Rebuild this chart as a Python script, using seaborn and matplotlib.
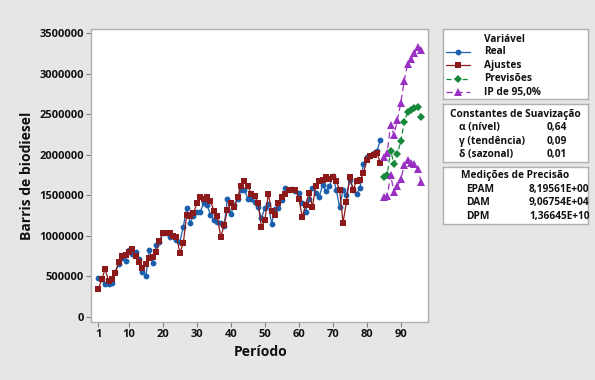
import numpy as np
import pandas as pd
import matplotlib
matplotlib.use("Agg")
import matplotlib.pyplot as plt
import seaborn as sns
from matplotlib.lines import Line2D

# --- data ---
periodo_real = list(range(1, 85))
real = [480000, 470000, 403000, 405000, 420000, 560000, 650000, 731000, 690000, 826000,
        777000, 800000, 711000, 558000, 505000, 826000, 662000, 888000, 929000, 1040000,
        1030000, 983000, 1000000, 949000, 928000, 1110000, 1340000, 1160000, 1250000, 1290000,
        1300000, 1400000, 1380000, 1260000, 1200000, 1170000, 1160000, 1120000, 1460000, 1270000,
        1380000, 1450000, 1570000, 1560000, 1460000, 1460000, 1420000, 1350000, 1220000, 1340000,
        1390000, 1150000, 1330000, 1340000, 1440000, 1590000, 1570000, 1580000, 1550000, 1530000,
        1410000, 1300000, 1450000, 1590000, 1530000, 1480000, 1630000, 1550000, 1610000, 1740000,
        1570000, 1350000, 1570000, 1500000, 1690000, 1560000, 1520000, 1590000, 1890000, 1970000,
        1980000, 2020000, 2050000, 2180000]
ajustes = [340000, 465000, 588000, 448000, 465000, 546000, 680000, 752000, 760000, 800000,
           838000, 752000, 680000, 608000, 650000, 723000, 743000, 800000, 937000, 1030000,
           1030000, 1030000, 1000000, 990000, 793000, 908000, 1260000, 1240000, 1280000, 1400000,
           1480000, 1450000, 1480000, 1430000, 1310000, 1250000, 983000, 1130000, 1320000, 1400000,
           1360000, 1480000, 1610000, 1670000, 1610000, 1520000, 1490000, 1410000, 1110000, 1190000,
           1520000, 1310000, 1260000, 1410000, 1480000, 1520000, 1570000, 1570000, 1570000, 1460000,
           1230000, 1380000, 1530000, 1360000, 1610000, 1680000, 1690000, 1720000, 1700000, 1720000,
           1670000, 1570000, 1160000, 1420000, 1730000, 1570000, 1680000, 1690000, 1770000, 1940000,
           1980000, 2000000, 2020000, 1900000]
periodo_prev = list(range(85, 97))
previsoes = [1730000, 1750000, 2050000, 1890000, 2010000, 2170000,
             2400000, 2530000, 2550000, 2570000, 2590000, 2470000]
ip_superior = [1970000, 2020000, 2370000, 2240000, 2430000, 2640000,
               2910000, 3120000, 3180000, 3250000, 3330000, 3290000]
ip_inferior = [1480000, 1490000, 1750000, 1540000, 1610000, 1700000,
               1870000, 1940000, 1900000, 1890000, 1820000, 1660000]

x_ticks = [1, 10, 20, 30, 40, 50, 60, 70, 80, 90]
y_ticks = [0, 500000, 1000000, 1500000, 2000000, 2500000, 3000000, 3500000]

legenda = ["Real", "Ajustes", "Previsões", "IP de 95,0%"]
constantes = [("α (nível)", "0,64"), ("γ (tendência)", "0,09"), ("δ (sazonal)", "0,01")]
medicoes = [("EPAM", "8,19561E+00"), ("DAM", "9,06754E+04"), ("DPM", "1,36645E+10")]

c_real = "#1c5fad"
c_ajus = "#8c1a1a"
c_prev = "#15883a"
c_ip = "#9a2fc4"
bg = "#e6e6e6"
edge = "#b0b0b0"
ls_prev = (0, (4, 2.5))
ls_ip = (0, (5, 3))

sns.set_theme(style="white")
plt.rcParams["font.family"] = ["Open Sans", "DejaVu Sans"]

W, H = 595, 380
fig = plt.figure(figsize=(W / 100, H / 100), dpi=100, facecolor=bg)


def px_axes(x0, y0, x1, y1):
    return fig.add_axes([x0 / W, 1 - y1 / H, (x1 - x0) / W, (y1 - y0) / H])


ax = px_axes(90.7, 29.3, 428, 321.7)
ax.set_facecolor("white")

sns.lineplot(x=periodo_real, y=real, ax=ax, color=c_real, marker="o", markersize=4.2,
             markeredgewidth=0, linewidth=0.9)
sns.lineplot(x=periodo_real, y=ajustes, ax=ax, color=c_ajus, marker="s", markersize=4.6,
             markeredgewidth=0, linewidth=0.9)
sns.lineplot(x=periodo_prev, y=previsoes, ax=ax, color=c_prev, marker="D", markersize=4.2,
             markeredgewidth=0, linewidth=0.9, linestyle=ls_prev)
sns.lineplot(x=periodo_prev, y=ip_superior, ax=ax, color=c_ip, marker="^", markersize=5.5,
             markeredgewidth=0, linewidth=0.9, linestyle=ls_ip)
sns.lineplot(x=periodo_prev, y=ip_inferior, ax=ax, color=c_ip, marker="^", markersize=5.5,
             markeredgewidth=0, linewidth=0.9, linestyle=ls_ip)

ax.set_xlim(-1.24, 98.0)
ax.set_ylim(-57900, 3545600)
ax.set_xticks(x_ticks)
ax.set_yticks(y_ticks)
ax.set_yticklabels([str(v) for v in y_ticks])
ax.tick_params(axis="both", direction="out", length=3.5, width=0.8, color="#808080",
               labelsize=8.0, labelcolor="#111111", pad=1.5, left=True, bottom=True)
for lab in ax.get_xticklabels() + ax.get_yticklabels():
    lab.set_fontweight("bold")
for s in ax.spines.values():
    s.set_color(edge)
    s.set_linewidth(1.0)

fig.text(27.5 / W, 1 - 176 / H, "Barris de biodiesel", rotation=90, ha="center", va="center",
         fontsize=10, fontweight="bold", color="#111111")
fig.text(261 / W, 1 - 352 / H, "Período", ha="center", va="center",
         fontsize=10, fontweight="bold", color="#111111")


def box(x0, y0, x1, y1):
    b = px_axes(x0, y0, x1, y1)
    b.set_xlim(0, x1 - x0)
    b.set_ylim(y1 - y0, 0)
    b.set_xticks([])
    b.set_yticks([])
    b.set_facecolor("white")
    for s in b.spines.values():
        s.set_color(edge)
        s.set_linewidth(1.0)
    return b


fs = 7.3
fw = "bold"
tc = "#111111"
bx0, bx1 = 443, 588
bw = bx1 - bx0

# box 1: legend
b1 = box(bx0, 29.3, bx1, 99)
b1.text(41, 9.7, "Variável", fontsize=fs, fontweight=fw, color=tc, va="center")
estilos = [(c_real, "o", "-", 4.2), (c_ajus, "s", "-", 4.6),
           (c_prev, "D", ls_prev, 4.2), (c_ip, "^", ls_ip, 5.5)]
for i, (nome, (cor, mk, ls, ms)) in enumerate(zip(legenda, estilos)):
    yy = 22.4 + i * 13.5
    b1.add_line(Line2D([3, 27], [yy, yy], color=cor, linestyle=ls, linewidth=0.9))
    b1.add_line(Line2D([15], [yy], color=cor, marker=mk, markersize=ms, markeredgewidth=0,
                       linestyle="none"))
    b1.text(41, yy, nome, fontsize=fs, fontweight=fw, color=tc, va="center")

# box 2: smoothing constants
b2 = box(bx0, 104.3, bx1, 161.7)
b2.text(bw / 2, 10, "Constantes de Suavização", fontsize=fs, fontweight=fw, color=tc,
        ha="center", va="center")
for i, (k, v) in enumerate(constantes):
    yy = 23.4 + i * 13.4
    b2.text(16, yy, k, fontsize=fs, fontweight=fw, color=tc, va="center")
    b2.text(104, yy, v, fontsize=fs, fontweight=fw, color=tc, va="center")

# box 3: accuracy measures
b3 = box(bx0, 166.7, bx1, 224)
b3.text(bw / 2, 9.3, "Medições de Precisão", fontsize=fs, fontweight=fw, color=tc,
        ha="center", va="center")
for i, (k, v) in enumerate(medicoes):
    yy = 22.6 + i * 13.4
    b3.text(23, yy, k, fontsize=fs, fontweight=fw, color=tc, va="center")
    b3.text(86, yy, v, fontsize=fs, fontweight=fw, color=tc, va="center")

fig.savefig("out.png", dpi=100, facecolor=bg)
